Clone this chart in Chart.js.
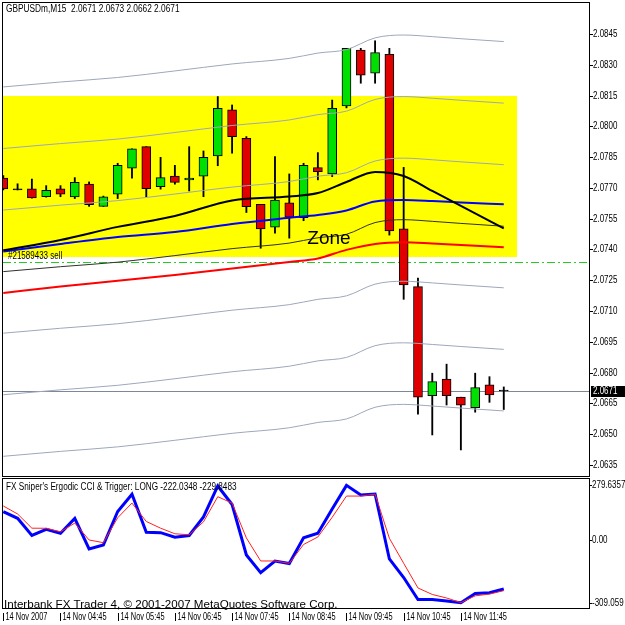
<!DOCTYPE html>
<html>
<head>
<meta charset="utf-8">
<script src="https://cdn.jsdelivr.net/npm/chart.js@4.4.0/dist/chart.umd.min.js"></script>
<style>
  body { margin: 0; background: #fff; }
  #wrap { position: relative; width: 625px; height: 625px; overflow: hidden; }
  #price { position: absolute; left: 0; top: 0; }
  #cci { position: absolute; left: 0; top: 478px; }
</style>
</head>
<body>
<div id="wrap">
  <canvas id="price" width="625" height="478"></canvas>
  <canvas id="cci" width="625" height="147"></canvas>
</div>
<script>
// M15 bars, 14 Nov 2007
const barTimes = ['03:45', '04:00', '04:15', '04:30', '04:45', '05:00', '05:15', '05:30', '05:45',
  '06:00', '06:15', '06:30', '06:45', '07:00', '07:15', '07:30', '07:45', '08:00', '08:15', '08:30',
  '08:45', '09:00', '09:15', '09:30', '09:45', '10:00', '10:15', '10:30', '10:45', '11:00', '11:15',
  '11:30', '11:45', '12:00', '12:15', '12:30']

const openPrice = [2.07748, 2.0769, 2.07695, 2.07657, 2.07696, 2.07656, 2.07718, 2.0761, 2.0767, 2.07796,
  2.07901, 2.07706, 2.07757, 2.07739, 2.07757, 2.07856, 2.0808, 2.07942, 2.0762, 2.07508, 2.07627, 2.07555,
  2.07799, 2.07768, 2.08099, 2.08372, 2.08259, 2.08351, 2.075, 2.07219, 2.06688, 2.06768, 2.0668, 2.06629,
  2.0674, 2.0671]
const highPrice = [2.0776, 2.0772, 2.07743, 2.07711, 2.07711, 2.0775, 2.07729, 2.0766, 2.0782, 2.0789,
  2.07901, 2.07849, 2.0781, 2.07901, 2.0788, 2.08145, 2.08104, 2.0795, 2.0762, 2.07852, 2.07768, 2.0782,
  2.07872, 2.08128, 2.0838, 2.0838, 2.08417, 2.0838, 2.078, 2.0726, 2.06797, 2.06841, 2.0668, 2.06797,
  2.0678, 2.0673]
const lowPrice = [2.0769, 2.0769, 2.0765, 2.07655, 2.07657, 2.07648, 2.0761, 2.0761, 2.07648, 2.07747,
  2.07657, 2.07694, 2.07718, 2.07685, 2.07657, 2.07808, 2.07869, 2.0758, 2.07406, 2.07479, 2.07455, 2.0754,
  2.07739, 2.07755, 2.0809, 2.0821, 2.0821, 2.0747, 2.07157, 2.06597, 2.06496, 2.06642, 2.06423, 2.06607,
  2.06655, 2.0662]
const closePrice = [2.07695, 2.0769, 2.07651, 2.07688, 2.0767, 2.07727, 2.07618, 2.07656, 2.0781, 2.0789,
  2.07696, 2.0775, 2.07727, 2.07748, 2.07849, 2.08088, 2.0795, 2.07609, 2.075, 2.0764, 2.07557, 2.0781,
  2.07779, 2.08088, 2.0838, 2.08249, 2.08359, 2.0749, 2.07227, 2.0668, 2.06756, 2.06688, 2.06641, 2.06727,
  2.06691, 2.0671]

// indicator lines read at these bars
const sampleBars = [0, 4, 8, 12, 16, 20, 22, 24, 26, 28, 30, 32, 35]
const envTop3 = [2.08192, 2.08216, 2.08238, 2.0827, 2.08304, 2.08331, 2.08357, 2.08374, 2.08431, 2.08445, 2.08437, 2.08427, 2.08413]
const envTop2 = [2.07892, 2.07916, 2.07938, 2.0797, 2.08004, 2.08031, 2.08057, 2.08074, 2.08131, 2.08145, 2.08137, 2.08127, 2.08113]
const envTop1 = [2.07592, 2.07616, 2.07638, 2.0767, 2.07704, 2.07731, 2.07757, 2.07774, 2.07831, 2.07845, 2.07837, 2.07827, 2.07813]
const envMid = [2.07292, 2.07316, 2.07338, 2.0737, 2.07404, 2.07431, 2.07457, 2.07474, 2.07531, 2.07545, 2.07537, 2.07527, 2.07513]
const envBot1 = [2.06992, 2.07016, 2.07038, 2.0707, 2.07104, 2.07131, 2.07157, 2.07174, 2.07231, 2.07245, 2.07237, 2.07227, 2.07213]
const envBot2 = [2.06692, 2.06716, 2.06738, 2.0677, 2.06804, 2.06831, 2.06857, 2.06874, 2.06931, 2.06945, 2.06937, 2.06927, 2.06913]
const envBot3 = [2.06392, 2.06416, 2.06438, 2.0647, 2.06504, 2.06531, 2.06557, 2.06574, 2.06631, 2.06645, 2.06637, 2.06627, 2.06613]
const maRed = [2.07188, 2.0722, 2.07247, 2.07276, 2.07307, 2.07339, 2.07356, 2.07398, 2.07427, 2.07435, 2.07429, 2.07422, 2.07411]
const maBlue = [2.0739, 2.07427, 2.07461, 2.07485, 2.07524, 2.07554, 2.07568, 2.0759, 2.07634, 2.07641, 2.07636, 2.07629, 2.0762]
const maBlack = [2.07396, 2.07446, 2.0751, 2.07563, 2.07639, 2.07658, 2.07675, 2.07729, 2.07778, 2.07758, 2.07685, 2.07612, 2.07503]

const priceTicks = [2.0635, 2.0650, 2.0665, 2.0680, 2.0695, 2.0710, 2.0725, 2.0740, 2.0755, 2.0770, 2.0785, 2.0800, 2.0815, 2.0830, 2.0845]
const priceMin = 2.06296
const priceMax = 2.08601

// Ergodic CCI (blue) and trigger (red)
const cciBlue = [130.5, 100.4, 21.9, 50.2, 31.9, 99.5, -39.7, -21.4, 131.4, 209.9, 36.5, 34.7, 13.7, 21.9,
  106.3, 247.8, 163.4, -67.1, -147.8, -94.5, -105.9, 11.4, 31.9, 142.8, 250.6, 206.7, 211.3, -85.3, -170.0,
  -270.1, -270.1, -277.0, -284.7, -242.8, -239.6, -222.0348]
const cciRed = [156.5, 120.0, 55.2, 54.8, 38.8, 78.5, 1.4, -11.0, 102.7, 169.7, 85.8, 55.2, 29.7, 25.1,
  84.0, 198.9, 169.7, 10.5, -94.5, -94.5, -105.0, -19.2, 15.1, 105.0, 201.7, 201.7, 210.8, 9.1, -105.0,
  -217.7, -247.3, -263.3, -284.7, -253.7, -245.5, -229.8483]
const cciTicks = [279.6357, 0, -309.059]
const cciTickLabels = ['279.6357', '0.00', '-309.059']

const timeTickBars = [0, 4, 8, 12, 16, 20, 24, 28, 32]
const timeTickLabels = ['14 Nov 2007', '14 Nov 04:45', '14 Nov 05:45', '14 Nov 06:45', '14 Nov 07:45',
  '14 Nov 08:45', '14 Nov 09:45', '14 Nov 10:45', '14 Nov 11:45']

// objects on the chart
const zoneTop = 2.0815
const zoneBottom = 2.07363
const zoneStartBar = -2
const zoneEndBar = 35.95
const orderPrice = 2.0734
const bidPrice = 2.0671
const zoneTextBar = 21.26
const zoneTextPrice = 2.07427

const xMin = -0.02
const xMax = 40.96

const smallFont = '10px "Liberation Sans", Arial, sans-serif'

// terminal font is narrow, squeeze the text a bit
function smallText(ctx, text, x, y, color, squeeze) {
  ctx.save()
  ctx.font = smallFont
  ctx.textBaseline = 'middle'
  ctx.fillStyle = color || '#000'
  ctx.translate(x, y)
  ctx.scale(squeeze || 0.8, 1)
  ctx.fillText(text, 0, 0)
  ctx.restore()
}

function lineSet(values, color, width) {
  return {
    type: 'line',
    data: sampleBars.map((b, i) => ({ x: b, y: values[i] })),
    borderColor: color,
    borderWidth: width,
    pointRadius: 0,
    cubicInterpolationMode: 'monotone',
    order: 0
  }
}

const candleIdx = barTimes.map((t, i) => i)
const bodyColors = candleIdx.map(i => closePrice[i] > openPrice[i] ? '#00e000' : (closePrice[i] < openPrice[i] ? '#e00000' : '#000000'))

const greyLine = '#9ea7ba'

const ctxPrice = document.getElementById('price')

const pricePlugin = {
  id: 'priceDecor',
  beforeDatasetsDraw(chart) {
    const { ctx, chartArea: a, scales: { x, y } } = chart
    ctx.save()
    ctx.beginPath()
    ctx.rect(a.left, a.top, a.right - a.left, a.bottom - a.top)
    ctx.clip()
    const zx1 = Math.round(x.getPixelForValue(zoneStartBar))
    const zx2 = Math.round(x.getPixelForValue(zoneEndBar))
    const zy1 = Math.round(y.getPixelForValue(zoneTop))
    const zy2 = Math.round(y.getPixelForValue(zoneBottom))
    ctx.fillStyle = '#ffff00'
    ctx.fillRect(zx1, zy1, zx2 - zx1, zy2 - zy1)

    const by = Math.round(y.getPixelForValue(bidPrice)) + 0.5
    ctx.strokeStyle = '#7a8899'
    ctx.lineWidth = 1
    ctx.beginPath(); ctx.moveTo(a.left, by); ctx.lineTo(a.right, by); ctx.stroke()

    const oy = Math.round(y.getPixelForValue(orderPrice)) + 0.5
    ctx.strokeStyle = '#22cc22'
    ctx.setLineDash([8, 3, 2, 3])
    ctx.beginPath(); ctx.moveTo(a.left, oy); ctx.lineTo(a.right, oy); ctx.stroke()
    ctx.restore()
  },
  afterDatasetsDraw(chart) {
    const { ctx, chartArea: a, scales: { x, y } } = chart
    const oy = Math.round(y.getPixelForValue(orderPrice))
    smallText(ctx, '#21589433 sell', a.left + 5, oy - 6)
    ctx.save()
    ctx.fillStyle = '#000'
    ctx.textBaseline = 'alphabetic'
    ctx.font = '19px "Liberation Sans", Arial, sans-serif'
    ctx.fillText('Zone', x.getPixelForValue(zoneTextBar), y.getPixelForValue(zoneTextPrice))
    ctx.restore()
  },
  afterDraw(chart) {
    const { ctx, chartArea: a, scales: { y } } = chart
    ctx.save()
    ctx.strokeStyle = '#000'
    ctx.lineWidth = 1
    ctx.strokeRect(a.left - 0.5, a.top - 0.5, a.right - a.left + 1, a.bottom - a.top + 1)
    priceTicks.forEach(v => {
      const py = Math.round(y.getPixelForValue(v))
      ctx.beginPath(); ctx.moveTo(a.right + 1, py + 0.5); ctx.lineTo(a.right + 4, py + 0.5); ctx.stroke()
      smallText(ctx, v.toFixed(4), a.right + 4, py)
    })
    smallText(ctx, 'GBPUSDm,M15  2.0671 2.0673 2.0662 2.0671', 6, 9, '#000', 0.83)
    const by = Math.round(y.getPixelForValue(bidPrice))
    ctx.fillStyle = '#000'
    ctx.fillRect(a.right + 2, by - 5, 40, 11)
    ctx.restore()
    smallText(ctx, bidPrice.toFixed(4), a.right + 4, by + 0.5, '#fff')
  }
}

new Chart(ctxPrice, {
  data: {
    datasets: [
      lineSet(maBlack, '#000000', 2),
      lineSet(maBlue, '#0000ff', 2),
      lineSet(maRed, '#ff0000', 2),
      lineSet(envMid, '#303030', 1),
      lineSet(envTop3, greyLine, 1),
      lineSet(envTop2, greyLine, 1),
      lineSet(envTop1, greyLine, 1),
      lineSet(envBot1, greyLine, 1),
      lineSet(envBot2, greyLine, 1),
      lineSet(envBot3, greyLine, 1),
      {
        type: 'bar',
        data: candleIdx.map(i => ({ x: i, y: [openPrice[i], closePrice[i]] })),
        backgroundColor: bodyColors,
        borderColor: '#000',
        borderWidth: 1,
        borderSkipped: false,
        barThickness: 9,
        minBarLength: 1,
        grouped: false,
        order: 1
      },
      {
        type: 'bar',
        data: candleIdx.map(i => ({ x: i, y: [lowPrice[i], highPrice[i]] })),
        backgroundColor: '#000',
        borderWidth: 0,
        barThickness: 1.2,
        grouped: false,
        order: 2
      }
    ]
  },
  options: {
    responsive: false,
    animation: false,
    layout: { padding: { left: 3, top: 3, right: 0, bottom: 2 } },
    plugins: { legend: { display: false }, tooltip: { enabled: false } },
    scales: {
      x: { type: 'linear', min: xMin, max: xMax, offset: false, display: false },
      y: {
        position: 'right',
        min: priceMin,
        max: priceMax,
        afterFit: s => { s.width = 36 },
        ticks: { display: false },
        grid: { display: false },
        border: { display: false }
      }
    }
  },
  plugins: [pricePlugin]
})

const ctxCci = document.getElementById('cci')

const cciPlugin = {
  id: 'cciDecor',
  afterDraw(chart) {
    const { ctx, chartArea: a, scales: { x, y } } = chart
    ctx.save()
    ctx.strokeStyle = '#000'
    ctx.lineWidth = 1
    ctx.strokeRect(a.left - 0.5, a.top - 0.5, a.right - a.left + 1, a.bottom - a.top + 1)
    cciTicks.forEach((v, i) => {
      let py = Math.round(y.getPixelForValue(v))
      py = Math.min(Math.max(py, a.top + 6), a.bottom - 5)
      ctx.beginPath(); ctx.moveTo(a.right + 1, py + 0.5); ctx.lineTo(a.right + 3, py + 0.5); ctx.stroke()
      smallText(ctx, cciTickLabels[i], a.right + 3, py)
    })
    timeTickBars.forEach((b, i) => {
      const px = Math.round(x.getPixelForValue(b)) + 0.5
      ctx.beginPath(); ctx.moveTo(px, a.bottom + 5); ctx.lineTo(px, a.bottom + 13); ctx.stroke()
      smallText(ctx, timeTickLabels[i], px + 2, a.bottom + 9, '#000', 0.74)
    })
    smallText(ctx, "FX Sniper's Ergodic CCI & Trigger: LONG -222.0348 -229.8483", 6, a.top + 8, '#000', 0.82)
    ctx.font = '11.6px "Liberation Sans", Arial, sans-serif'
    ctx.fillStyle = '#000'
    ctx.textBaseline = 'alphabetic'
    ctx.fillText('Interbank FX Trader 4, \u00a9 2001-2007 MetaQuotes Software Corp.', 4, a.bottom - 0.5)
    ctx.restore()
  }
}

new Chart(ctxCci, {
  data: {
    datasets: [
      {
        type: 'line',
        data: candleIdx.map(i => ({ x: i, y: cciRed[i] })),
        borderColor: '#ff2020',
        borderWidth: 1,
        pointRadius: 0,
        tension: 0
      },
      {
        type: 'line',
        data: candleIdx.map(i => ({ x: i, y: cciBlue[i] })),
        borderColor: '#0000ff',
        borderWidth: 3,
        pointRadius: 0,
        tension: 0
      }
    ]
  },
  options: {
    responsive: false,
    animation: false,
    layout: { padding: { left: 3, top: 1, right: 0, bottom: 0 } },
    plugins: { legend: { display: false }, tooltip: { enabled: false } },
    scales: {
      x: {
        type: 'linear',
        min: xMin,
        max: xMax,
        offset: false,
        afterFit: s => { s.height = 17 },
        ticks: { display: false },
        grid: { display: false },
        border: { display: false }
      },
      y: {
        position: 'right',
        min: cciTicks[2],
        max: cciTicks[0],
        afterFit: s => { s.width = 36 },
        ticks: { display: false },
        grid: { display: false },
        border: { display: false }
      }
    }
  },
  plugins: [cciPlugin]
})
</script>
</body>
</html>
